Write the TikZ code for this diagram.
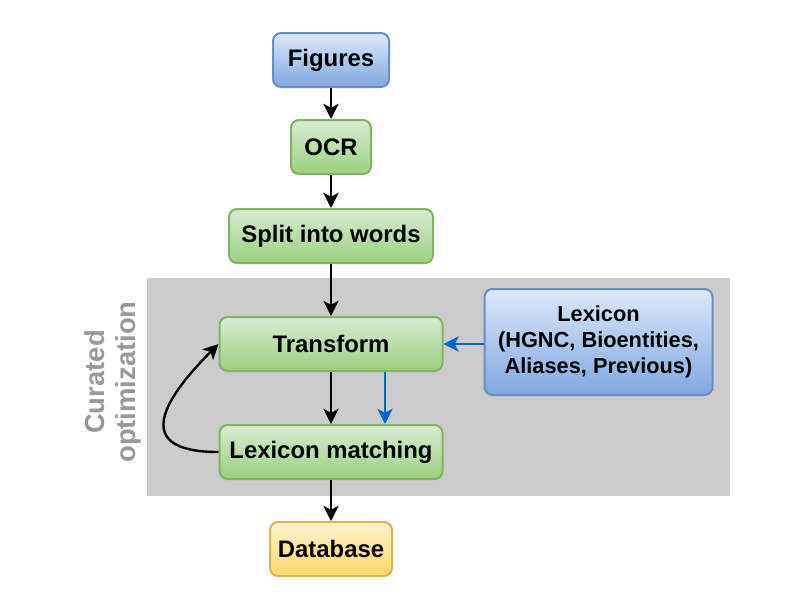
\documentclass[tikz,border=0pt]{standalone}
\usepackage{fontspec}
\setmainfont{Liberation Sans}
\usepackage{xcolor}
\usetikzlibrary{arrows.meta,positioning,backgrounds}
\definecolor{greenedge}{HTML}{82B366}
\definecolor{greentop}{HTML}{D8EBD3}
\definecolor{greenbot}{HTML}{9BD17E}
\definecolor{blueedge}{HTML}{6C8EBF}
\definecolor{bluetop}{HTML}{DCE9FB}
\definecolor{bluebot}{HTML}{7FA7E0}
\definecolor{yellowedge}{HTML}{D6B656}
\definecolor{yellowtop}{HTML}{FFF3CE}
\definecolor{yellowbot}{HTML}{FFD966}
\definecolor{bggray}{HTML}{CCCCCC}
\definecolor{labelgray}{HTML}{999999}
\definecolor{linkblue}{HTML}{0066CC}
\tikzset{
  fc box/.style={
    rectangle,
    rounded corners=2mm,
    minimum height=13.5mm,
    line width=0.5mm,
    font=\fontsize{17}{18.5}\selectfont\bfseries,
    inner sep=3pt,
    align=center,
  },
  fc step/.style={fc box, draw=greenedge, top color=greentop, bottom color=greenbot},
  fc source/.style={fc box, draw=blueedge, top color=bluetop, bottom color=bluebot},
  fc sink/.style={fc box, draw=yellowedge, top color=yellowtop, bottom color=yellowbot},
  fc arrow/.style={-{Stealth[length=3.8mm,width=3.8mm,inset=1mm]}, line width=0.6mm},
  fc blue arrow/.style={fc arrow, draw=linkblue, -{Stealth[length=3.8mm,width=3.8mm,inset=1mm,fill=linkblue]}},
}

\begin{document}
\begin{tikzpicture}
  \useasboundingbox (-82.75mm,15mm) rectangle (116.25mm,-135mm);

  \node[fc source,minimum width=29mm] (fig) at (0,0) {Figures};
  \node[fc step,minimum width=20mm,below=7.75mm of fig] (ocr) {OCR};
  \node[fc step,minimum width=51mm,below=8.25mm of ocr] (split) {Split into words};
  \node[fc step,minimum width=55.75mm,below=13mm of split] (tf) {Transform};
  \node[fc step,minimum width=55.75mm,below=13mm of tf] (lm) {Lexicon matching};
  \node[fc sink,minimum width=30.5mm,below=10.25mm of lm] (db) {Database};
  \node[fc source,minimum width=57mm,minimum height=26.5mm,right=10mm of tf,yshift=0.5mm,
    font=\fontsize{15.5}{18.5}\selectfont\bfseries] (lex)
    {Lexicon\\(HGNC, Bioentities,\\Aliases, Previous)};
  \node[rotate=90,align=center,text=labelgray,font=\fontsize{19.5}{22}\selectfont\bfseries]
    (cur) at (-54.5mm,-80.5mm) {Curated\\optimization};

  \begin{scope}[on background layer]
    \fill[bggray] (-46mm,-54.5mm) rectangle (99.75mm,-109mm);
  \end{scope}

  \draw[fc arrow] (fig) -- (ocr);
  \draw[fc arrow] (ocr) -- (split);
  \draw[fc arrow] (split) -- (tf);
  \draw[fc arrow] (tf) -- (lm);
  \draw[fc arrow] (lm) -- (db);
  \draw[fc arrow] (lm.west) to[out=180,in=225,looseness=2] (tf.west);
  \draw[fc blue arrow] (lex.west |- tf.east) -- (tf.east);
  \draw[fc blue arrow] ([xshift=13.5mm]tf.south) -- ([xshift=13.5mm]lm.north);
\end{tikzpicture}
\end{document}
